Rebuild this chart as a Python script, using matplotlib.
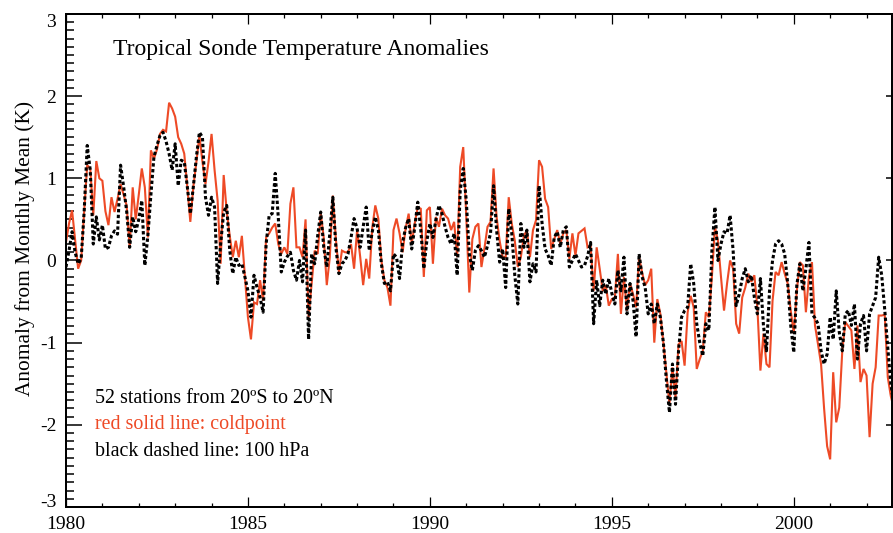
import numpy as np
import matplotlib
matplotlib.use('Agg')
import matplotlib.pyplot as plt
from matplotlib.ticker import MultipleLocator

plt.rcParams['font.family'] = ['Liberation Serif', 'DejaVu Serif']
plt.rcParams['axes.unicode_minus'] = False

# monthly anomalies (K), starting January 1980
coldpoint = [
    0.22, 0.45, 0.61, 0.25, -0.10, 0.00, 0.60, 1.16, 1.12, 0.55,
    1.21, 1.00, 0.97, 0.60, 0.43, 0.77, 0.59, 0.75, 0.93, 0.80,
    0.67, 0.16, 0.89, 0.50, 0.80, 1.12, 0.89, 0.28, 1.34, 1.24,
    1.35, 1.54, 1.59, 1.57, 1.92, 1.85, 1.75, 1.50, 1.42, 1.30,
    0.90, 0.47, 0.90, 1.20, 1.52, 1.20, 0.93, 1.20, 1.54, 1.10,
    0.73, -0.04, 1.04, 0.60, 0.30, 0.04, 0.24, 0.04, 0.30, -0.20,
    -0.69, -0.96, -0.51, -0.53, -0.24, -0.49, 0.28, 0.33, 0.40, 0.45,
    0.20, 0.08, 0.16, 0.08, 0.69, 0.89, 0.16, 0.16, 0.04, 0.50,
    -0.69, -0.28, 0.12, 0.08, 0.57, 0.28, -0.30, 0.04, 0.79, 0.26,
    -0.14, 0.12, 0.10, 0.10, 0.20, -0.10, 0.37, 0.05, -0.30, 0.02,
    -0.22, 0.40, 0.67, 0.51, 0.00, -0.24, -0.33, -0.55, 0.37, 0.51,
    0.33, 0.10, 0.39, 0.57, 0.20, 0.45, 0.65, 0.63, -0.20, 0.61,
    0.65, -0.04, 0.53, 0.41, 0.63, 0.55, 0.51, 0.37, 0.47, 0.04,
    1.14, 1.38, 0.53, -0.39, 0.26, 0.41, 0.45, -0.08, 0.15, 0.41,
    0.47, 1.12, 0.53, 0.24, 0.04, 0.04, 0.77, 0.45, 0.24, -0.08,
    0.04, 0.30, 0.37, 0.04, 0.37, 0.49, 1.22, 1.14, 0.75, 0.65,
    0.14, 0.26, 0.37, 0.20, 0.33, 0.37, 0.02, 0.33, 0.06, 0.33,
    0.36, 0.39, 0.16, 0.18, -0.37, 0.16, -0.10, -0.37, -0.30, -0.55,
    -0.47, -0.45, 0.08, -0.65, -0.20, -0.61, -0.28, -0.41, -0.57, 0.04,
    -0.15, -0.30, -0.24, -0.10, -1.00, -0.47, -0.65, -1.00, -1.38, -1.75,
    -1.30, -1.67, -1.02, -0.98, -1.28, -0.63, -0.43, -0.57, -1.32, -1.20,
    -1.10, -0.63, -0.69, -0.20, 0.41, 0.24, -0.20, -0.61, -0.28, 0.00,
    -0.10, -0.77, -0.89, -0.45, -0.33, -0.16, -0.26, -0.18, -0.57, -1.34,
    -0.89, -1.26, -1.30, -0.49, -0.14, -0.18, -0.02, -0.16, -0.28, -0.61,
    -0.89, -0.37, -0.02, -0.06, -0.63, -0.20, -0.02, -0.79, -1.02, -1.26,
    -1.80, -2.26, -2.42, -1.36, -1.97, -1.79, -1.10, -0.75, -0.80, -0.85,
    -1.32, -0.79, -1.48, -1.32, -1.40, -2.15, -1.50, -1.30, -0.67, -0.67,
    -0.66, -1.42, -1.65, -1.80,
]

hpa100 = [
    -0.08, 0.12, 0.35, 0.10, -0.04, 0.02, 0.60, 1.40, 1.10, 0.20,
    0.53, 0.25, 0.43, 0.14, 0.16, 0.30, 0.36, 0.32, 1.16, 0.90,
    0.60, 0.16, 0.53, 0.35, 0.50, 0.73, -0.06, 0.30, 0.80, 1.26,
    1.40, 1.52, 1.56, 1.45, 1.30, 1.10, 1.42, 0.91, 1.22, 1.20,
    0.90, 0.57, 0.90, 1.26, 1.56, 1.50, 0.77, 0.55, 0.77, 0.65,
    -0.28, 0.20, 0.59, 0.67, 0.12, -0.16, 0.04, -0.06, -0.04, -0.20,
    -0.37, -0.69, -0.18, -0.33, -0.45, -0.63, 0.20, 0.55, 0.57, 1.06,
    0.53, -0.14, -0.02, 0.05, 0.10, -0.12, -0.24, 0.00, -0.26, 0.37,
    -0.96, 0.08, -0.04, 0.30, 0.59, 0.16, -0.08, 0.33, 0.77, 0.16,
    -0.16, -0.04, 0.00, 0.08, 0.28, 0.51, 0.39, 0.16, 0.41, 0.65,
    0.12, 0.35, 0.53, 0.37, -0.04, -0.28, -0.26, -0.37, 0.08, 0.04,
    -0.22, 0.22, 0.40, 0.51, 0.14, 0.40, 0.71, 0.37, -0.10, 0.24,
    0.45, 0.28, 0.50, 0.67, 0.57, 0.41, 0.28, 0.20, 0.33, -0.18,
    0.85, 1.12, 0.73, 0.08, -0.12, 0.12, 0.18, 0.12, 0.04, 0.18,
    0.33, 0.91, 0.37, -0.02, 0.14, -0.33, 0.63, 0.33, -0.18, -0.53,
    0.45, 0.16, 0.37, -0.26, -0.04, -0.14, 0.91, 0.45, 0.14, 0.06,
    -0.06, 0.28, 0.35, 0.16, 0.37, 0.41, -0.08, 0.00, 0.08, 0.00,
    -0.08, -0.06, 0.05, 0.22, -0.77, -0.24, -0.55, -0.24, -0.41, -0.22,
    -0.40, -0.53, -0.12, -0.37, 0.04, -0.65, -0.28, -0.49, -0.93, 0.08,
    -0.20, -0.33, -0.65, -0.53, -0.77, -0.53, -0.69, -1.00, -1.46, -1.85,
    -1.26, -1.75, -1.10, -0.69, -0.61, -0.57, -0.04, -0.28, -0.77, -1.00,
    -1.16, -0.77, -0.85, 0.12, 0.65, 0.00, 0.20, 0.35, 0.33, 0.55,
    0.12, -0.55, -0.41, -0.22, -0.10, -0.26, -0.18, -0.45, -0.65, -0.22,
    -0.79, -1.10, -0.37, 0.00, 0.20, 0.24, 0.20, 0.08, -0.28, -0.79,
    -1.12, -0.30, -0.04, -0.37, -0.10, 0.22, -0.65, -0.70, -0.77, -1.10,
    -1.26, -1.14, -0.69, -0.96, -0.37, -0.87, -1.10, -0.65, -0.61, -0.79,
    -0.53, -1.20, -0.77, -0.67, -1.10, -0.65, -0.55, -0.45, 0.04, -0.18,
    -0.60, -1.06, -1.50, -1.75,
]

start_year = 1980
title = 'Tropical Sonde Temperature Anomalies'
notes = ['52 stations from 20ºS to 20ºN',
         'red solid line: coldpoint',
         'black dashed line: 100 hPa']
red = '#ee4a26'

t_cold = start_year + np.arange(len(coldpoint)) / 12.0
t_100 = start_year + np.arange(len(hpa100)) / 12.0

fig = plt.figure(figsize=(8.93, 5.33), dpi=100)
ax = fig.add_axes([0.0739, 0.0488, 0.925, 0.925])

ax.plot(t_cold, coldpoint, color=red, lw=1.5, solid_joinstyle='miter')
ax.plot(t_100, hpa100, color='black', lw=2.2, linestyle=(0, (1.1, 0.8)))

ax.set_xlim(1980, 2002.7)
ax.set_ylim(-3, 3)

ax.xaxis.set_major_locator(MultipleLocator(5))
ax.xaxis.set_minor_locator(MultipleLocator(1))
ax.yaxis.set_major_locator(MultipleLocator(1))
ax.yaxis.set_minor_locator(MultipleLocator(0.1))

ax.tick_params(axis='x', which='major', direction='in', length=7.2, width=0.9,
               top=True, labelsize=14, pad=6.5)
ax.tick_params(axis='x', which='minor', direction='in', length=3.0, width=0.9,
               top=True)
ax.tick_params(axis='y', which='major', direction='in', length=11.5, width=1.1,
               right=False, labelsize=14, pad=7)
ax.tick_params(axis='y', which='minor', direction='in', length=5.8, width=1.1,
               right=False)
# the end labels sit a little inside the frame
ylabels = ax.get_yticklabels()
ylabels[1].set_verticalalignment('baseline')
ylabels[-2].set_verticalalignment('top')

# short ticks on the right side, majors only
axr = ax.twinx()
axr.set_ylim(-3, 3)
axr.yaxis.set_major_locator(MultipleLocator(1))
axr.tick_params(axis='y', direction='in', length=4.3, width=1.1, labelright=False)
for a in (ax, axr):
    for s in a.spines.values():
        s.set_linewidth(1.4)

ax.set_ylabel('Anomaly from Monthly Mean (K)', fontsize=15.4)
ax.yaxis.set_label_coords(-0.038, 0.525)

ax.text(1981.3, 2.57, title, fontsize=17, va='center', ha='left')
ax.text(1980.8, -1.68, notes[0], fontsize=14.4, va='center', ha='left')
ax.text(1980.8, -2.0, notes[1], fontsize=14.4, va='center', ha='left', color=red)
ax.text(1980.8, -2.32, notes[2], fontsize=14.4, va='center', ha='left')

fig.savefig('out.png', dpi=100)
